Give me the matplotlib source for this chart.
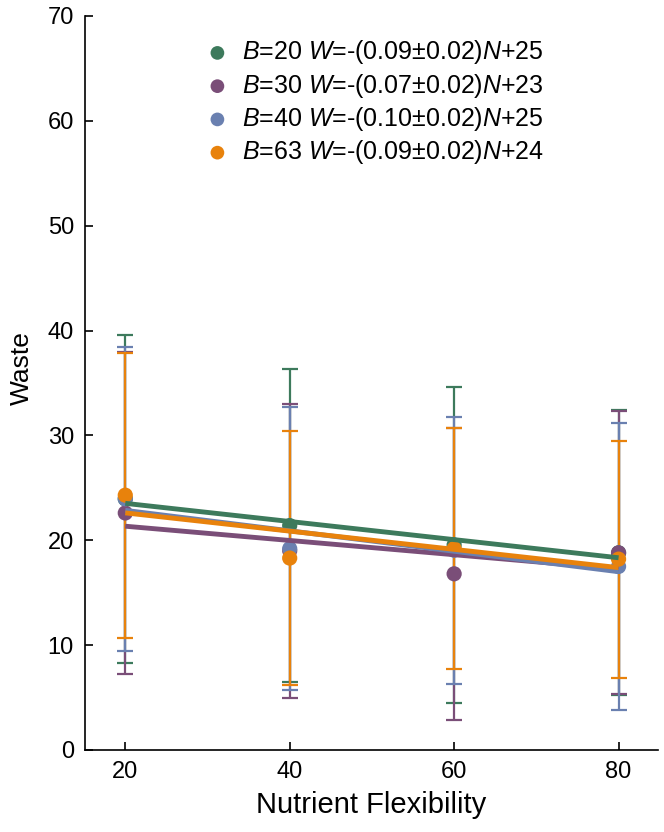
import numpy as np
import matplotlib
matplotlib.use("Agg")
import matplotlib.pyplot as plt

plt.rcParams['font.family'] = ['Liberation Sans', 'DejaVu Sans']
plt.rcParams['mathtext.fontset'] = 'custom'
plt.rcParams['mathtext.rm'] = 'Liberation Sans'
plt.rcParams['mathtext.it'] = 'Liberation Sans:italic'

# nutrient flexibility values
flex = [20, 40, 60, 80]

# mean waste and error (half-width) per B value
b20_mean = [23.95, 21.4, 19.55, 18.8]
b20_err = [15.65, 14.9, 15.05, 13.6]
b30_mean = [22.6, 19.0, 16.8, 18.8]
b30_err = [15.4, 14.0, 13.9, 13.5]
b40_mean = [23.95, 19.2, 19.05, 17.5]
b40_err = [14.5, 13.5, 12.75, 13.7]
b63_mean = [24.3, 18.3, 19.2, 18.2]
b63_err = [13.6, 12.1, 11.5, 11.3]

labels = [
    r"$B$=20 $W$=-(0.09$\pm$0.02)$N$+25",
    r"$B$=30 $W$=-(0.07$\pm$0.02)$N$+23",
    r"$B$=40 $W$=-(0.10$\pm$0.02)$N$+25",
    r"$B$=63 $W$=-(0.09$\pm$0.02)$N$+24",
]
colors = ["#3d7a5c", "#7a4e78", "#6a80b0", "#e8820c"]

series = [(b20_mean, b20_err), (b30_mean, b30_err),
          (b40_mean, b40_err), (b63_mean, b63_err)]

fig = plt.figure(figsize=(6.64, 8.32), dpi=100)
ax = fig.add_axes([0.128, 0.0986, 0.863, 0.8822])

x = np.array(flex)
handles = []
for (m, e), c, lab in zip(series, colors, labels):
    ax.errorbar(x, m, yerr=e, fmt='none', ecolor=c, elinewidth=1.6,
                capsize=6, capthick=1.6, zorder=2)
    h = ax.scatter(x, m, s=120, color=c, zorder=3, label=lab, edgecolors='none')
    handles.append(h)
    # fitted line through the means
    k, b0 = np.polyfit(x, m, 1)
    ax.plot(x[[0, -1]], k * x[[0, -1]] + b0, color=c, lw=3.5, zorder=4,
            solid_capstyle='butt')

ax.set_xlim(15.1, 84.8)
ax.set_ylim(0, 70)
ax.set_xticks(flex)
ax.set_yticks(range(0, 71, 10))
ax.spines['top'].set_visible(False)
ax.spines['right'].set_visible(False)
ax.spines['left'].set_linewidth(1.2)
ax.spines['bottom'].set_linewidth(1.2)
ax.tick_params(direction='in', labelsize=17, length=6, width=1.2, pad=8)
ax.set_xlabel("Nutrient Flexibility", fontsize=21, labelpad=6)
ax.set_ylabel("Waste", fontsize=19)
ax.yaxis.set_label_coords(-0.09, 0.52)

ax.legend(handles=handles, loc='upper left', bbox_to_anchor=(0.17, 1.0),
          frameon=False, fontsize=18, handlelength=1.0, handletextpad=0.5,
          labelspacing=0.21, markerscale=0.9)

fig.savefig("out.png", dpi=100)
